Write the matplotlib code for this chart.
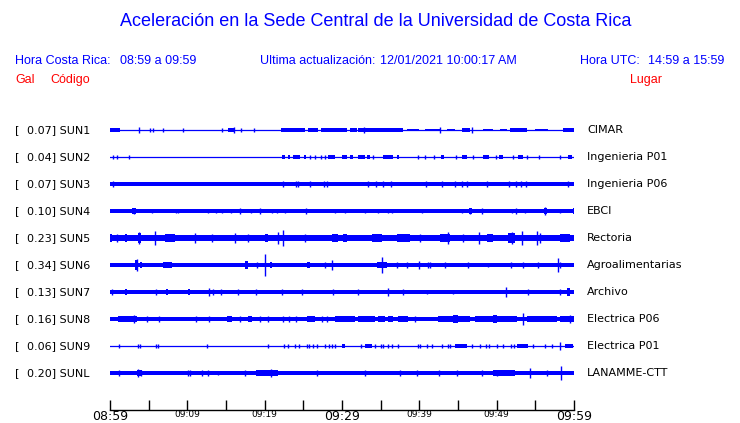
import matplotlib.pyplot as plt
from matplotlib.transforms import blended_transform_factory

# stations, top to bottom
codes = ['SUN1', 'SUN2', 'SUN3', 'SUN4', 'SUN5', 'SUN6', 'SUN7', 'SUN8', 'SUN9', 'SUNL']
places = ['CIMAR', 'Ingenieria P01', 'Ingenieria P06', 'EBCI', 'Rectoria',
          'Agroalimentarias', 'Archivo', 'Electrica P06', 'Electrica P01', 'LANAMME-CTT']
peaks = [0.07, 0.04, 0.07, 0.10, 0.23, 0.34, 0.13, 0.16, 0.06, 0.20]

# background noise half amplitude (Gal), 0 = quiet trace
noise = [0.0, 0.0, 0.055, 0.05, 0.09, 0.055, 0.05, 0.065, 0.0, 0.055]

# bursts: (start min, end min, half amplitude Gal), minutes after 08:59
sun1_bursts = [(0, 1.3, .045), (15.3, 16.2, .045), (22.1, 25.2, .045), (25.6, 26.9, .045),
               (27.3, 30.6, .045), (31.0, 31.9, .045), (32.1, 37.9, .045), (38.4, 40.0, .04),
               (40.7, 42.7, .04), (43.6, 44.6, .04), (45.5, 46.6, .045), (48.2, 49.5, .04),
               (50.4, 51.3, .04), (51.7, 53.9, .045), (55.0, 56.6, .04), (58.6, 60, .045)]
sun2_bursts = [(22.2, 22.6, .05), (23.0, 23.3, .05), (23.7, 24.6, .05), (25.1, 25.3, .05),
               (28.2, 29.1, .05), (30.0, 30.6, .05), (31.0, 31.4, .05), (32.1, 33.0, .05),
               (33.2, 33.6, .05), (35.3, 36.6, .05), (37.1, 37.4, .05), (42.8, 43.2, .05),
               (45.5, 46.2, .05), (48.2, 49.0, .05), (50.3, 50.8, .05), (52.8, 53.4, .05),
               (59.2, 59.7, .05)]
sun3_bursts = []
sun4_bursts = [(0, 0.3, .07), (2.8, 3.4, .08), (38.4, 38.7, .07), (46.4, 46.8, .08),
               (56.1, 56.5, .09), (59.9, 60, .08)]
sun5_bursts = [(0, 0.3, .12), (1.9, 2.2, .12), (3.6, 4.0, .14), (7.1, 8.4, .11), (20.0, 20.4, .12),
               (28.7, 29.5, .12), (30.1, 30.6, .12), (33.9, 35.2, .13), (37.1, 38.8, .13),
               (42.7, 44.0, .13), (48.7, 49.5, .13), (51.5, 52.4, .14), (58.2, 59.5, .12)]
sun6_bursts = [(3.2, 3.6, .14), (3.9, 4.1, .09), (6.9, 8.0, .085), (17.5, 17.8, .11),
               (20.7, 20.9, .09), (25.5, 25.9, .1), (34.5, 35.8, .1)]
sun7_bursts = [(1.9, 2.2, .08), (7.2, 7.5, .08), (10.1, 10.3, .1), (59.1, 59.5, .12)]
sun8_bursts = [(1.0, 3.5, .1), (15.1, 15.8, .09), (17.8, 18.3, .09), (25.5, 26.5, .1),
               (29.1, 31.7, .085), (32.1, 34.3, .08), (34.7, 35.6, .08), (35.9, 36.6, .08),
               (37.3, 38.5, .1), (42.4, 46.6, .1), (44.4, 45.0, .13), (47.2, 49.5, .09),
               (49.5, 50.0, .11), (50.0, 52.6, .09), (53.9, 57.8, .09), (58.2, 60, .09)]
sun9_bursts = [(30.0, 30.4, .06), (33.0, 33.9, .05), (44.6, 46.2, .045), (52.6, 54.1, .06),
               (58.8, 59.9, .05)]
sunl_bursts = [(3.5, 4.1, .1), (18.9, 21.7, .1), (49.5, 52.4, .09)]

# single spikes: (minute, half amplitude Gal)
sun1_spikes = [(3.8, .09), (5.2, .045), (5.6, .045), (6.8, .045), (9.4, .045), (14.5, .045),
               (16.0, .075), (17.0, .045), (18.6, .045), (32.8, .09), (42.7, .075), (46.8, .075)]
sun2_spikes = [(0.4, .045), (0.9, .045), (2.5, .06), (25.9, .05), (26.5, .05), (27.3, .05),
               (27.8, .05), (34.0, .05), (39.8, .05), (40.7, .05), (41.9, .05), (44.7, .05),
               (46.9, .05), (49.9, .05), (52.1, .05), (53.9, .05), (55.5, .05), (58.2, .05)]
sun3_spikes = [(0.4, .09), (22.4, .09), (24.0, .09), (24.3, .09), (25.9, .08), (27.7, .09),
               (28.0, .08), (33.4, .09), (34.4, .09), (35.3, .09), (36.3, .09), (40.9, .09),
               (42.9, .09), (44.6, .09), (45.5, .09), (46.2, .1), (48.7, .09), (51.6, .09),
               (52.5, .09), (53.1, .09), (53.8, .09), (59.2, .09)]
sun4_spikes = [(3.1, .09), (5.4, .07), (8.5, .07), (8.8, .07), (12.7, .07), (13.7, .07),
               (14.5, .07), (15.6, .07), (16.8, .09), (18.2, .07), (19.4, .09), (20.9, .07),
               (21.6, .07), (22.6, .07), (25.3, .08), (29.1, .07), (30.4, .07), (33.0, .07),
               (34.7, .07), (35.9, .07), (36.5, .07), (40.3, .07), (45.5, .07), (46.6, .09),
               (48.1, .09), (52.0, .07), (52.5, .08), (53.7, .07), (56.3, .105), (58.2, .07)]
sun5_spikes = [(0.9, .11), (3.8, .17), (5.8, .21), (11.0, .15), (13.2, .11), (16.2, .15),
               (17.8, .12), (21.7, .18), (22.4, .24), (25.2, .12), (40.1, .12), (43.7, .18),
               (45.6, .12), (47.7, .19), (52.0, .17), (53.3, .21), (55.2, .22), (55.6, .15)]
sun6_spikes = [(3.5, .18), (19.0, .09), (20.0, .33), (27.8, .09), (28.7, .15), (35.2, .24),
               (37.1, .075), (38.4, .09), (40.0, .12), (41.1, .075), (41.4, .075), (43.3, .09),
               (46.3, .075), (48.9, .07), (51.8, .09), (53.4, .075), (55.3, .075), (57.9, .21),
               (58.2, .09)]
sun7_spikes = [(0.2, .1), (6.0, .075), (12.8, .13), (13.3, .075), (14.4, .075), (16.6, .075),
               (18.9, .075), (22.3, .075), (24.8, .075), (28.8, .09), (32.1, .075), (36.0, .12),
               (37.9, .075), (41.0, .07), (44.4, .07), (51.2, .15), (54.1, .075), (58.2, .075)]
sun8_spikes = [(3.1, .13), (4.8, .085), (6.3, .085), (11.1, .09), (12.8, .085), (16.8, .085),
               (19.4, .085), (20.4, .085), (22.4, .09), (23.1, .085), (24.0, .09), (27.4, .1),
               (28.0, .09), (39.4, .09), (53.4, .18), (59.5, .12)]
sun9_spikes = [(1.2, .045), (3.6, .045), (3.9, .05), (5.9, .05), (6.2, .05), (12.5, .05),
               (20.4, .05), (22.5, .05), (23.0, .045), (23.9, .05), (24.4, .05), (25.5, .06),
               (25.7, .06), (26.2, .05), (26.8, .05), (27.8, .05), (28.3, .05), (28.7, .05),
               (29.1, .05), (32.4, .05), (34.3, .045), (35.0, .05), (35.3, .045), (36.0, .05),
               (36.5, .045), (37.2, .045), (39.8, .045), (40.1, .045), (41.0, .045), (41.6, .045),
               (42.9, .05), (43.7, .045), (44.0, .045), (46.8, .045), (47.9, .05), (48.6, .045),
               (49.0, .045), (50.0, .045), (50.8, .045), (51.8, .045), (52.3, .045), (54.7, .045),
               (56.2, .045), (57.2, .045), (58.2, .12)]
sunl_spikes = [(1.2, .08), (3.6, .12), (4.0, .1), (10.1, .1), (10.3, .1), (11.9, .09),
               (12.7, .09), (14.0, .07), (17.5, .09), (20.8, .12), (26.8, .1), (33.0, .08),
               (37.5, .08), (39.7, .08), (42.6, .09), (44.9, .08), (48.1, .08), (50.0, .1),
               (54.3, .16), (56.5, .09), (58.3, .22)]

bursts = [sun1_bursts, sun2_bursts, sun3_bursts, sun4_bursts, sun5_bursts,
          sun6_bursts, sun7_bursts, sun8_bursts, sun9_bursts, sunl_bursts]
spikes = [sun1_spikes, sun2_spikes, sun3_spikes, sun4_spikes, sun5_spikes,
          sun6_spikes, sun7_spikes, sun8_spikes, sun9_spikes, sunl_spikes]

tick_min = list(range(0, 61, 5))
tick_txt = ['08:59', '', '09:09', '', '09:19', '', '09:29', '', '09:39', '', '09:49', '', '09:59']

BLUE = '#0000ff'
RED = '#ff0000'
W, H = 740, 423
ROW = 27 / 34  # vertical gap between traces, in Gal

fig = plt.figure(figsize=(W / 100, H / 100), dpi=100)
ax = fig.add_axes([110 / W, 13 / H, 464 / W, 295 / H])
ax.set_xlim(0, 60)
ax.set_ylim(-280 / 34, 15 / 34)

for i in range(len(codes)):
    y0 = -i * ROW
    if noise[i] > 0:
        ax.fill_between([0, 60], y0 - noise[i], y0 + noise[i], color=BLUE, lw=0)
    else:
        ax.plot([0, 60], [y0, y0], color=BLUE, lw=0.9)
    for t0, t1, a in bursts[i]:
        ax.fill_between([t0, t1], y0 - a, y0 + a, color=BLUE, lw=0)
    for t, a in spikes[i]:
        ax.vlines(t, y0 - a, y0 + a, color=BLUE, lw=1.0)

# station labels
tr = blended_transform_factory(fig.transFigure, ax.transData)
for i in range(len(codes)):
    y0 = -i * ROW
    ax.text(15 / W, y0, '[', transform=tr, fontsize=8, va='center', family='DejaVu Sans')
    ax.text(27 / W, y0, f'{peaks[i]:.2f}] {codes[i]}', transform=tr, fontsize=8,
            va='center', family='DejaVu Sans')
    ax.text(587 / W, y0, places[i], transform=tr, fontsize=8, va='center',
            family='DejaVu Sans')

# time axis
for s in ['left', 'right', 'top']:
    ax.spines[s].set_visible(False)
ax.spines['bottom'].set_linewidth(1.0)
ax.set_yticks([])
ax.set_xticks(tick_min)
ax.set_xticklabels(tick_txt)
ax.tick_params(axis='x', direction='in', length=7, width=1.0, pad=0)
for lab, t in zip(ax.get_xticklabels(), tick_min):
    lab.set_fontsize(9 if t % 30 == 0 else 6.5)

# header
hdr = dict(family='Liberation Sans', va='center')
fig.text(376 / W, 1 - 22 / H, 'Aceleración en la Sede Central de la Universidad de Costa Rica',
         ha='center', color=BLUE, fontsize=13, **hdr)
fig.text(15 / W, 1 - 61 / H, 'Hora Costa Rica:', color=BLUE, fontsize=9, **hdr)
fig.text(120 / W, 1 - 61 / H, '08:59 a 09:59', color=BLUE, fontsize=9, **hdr)
fig.text(260 / W, 1 - 61 / H, 'Ultima actualización:', color=BLUE, fontsize=9, **hdr)
fig.text(380 / W, 1 - 61 / H, '12/01/2021 10:00:17 AM', color=BLUE, fontsize=9, **hdr)
fig.text(580 / W, 1 - 61 / H, 'Hora UTC:', color=BLUE, fontsize=9, **hdr)
fig.text(724 / W, 1 - 61 / H, '14:59 a 15:59', color=BLUE, fontsize=9, ha='right', **hdr)
fig.text(15 / W, 1 - 80 / H, 'Gal', color=RED, fontsize=9, **hdr)
fig.text(50 / W, 1 - 80 / H, 'Código', color=RED, fontsize=9, **hdr)
fig.text(662 / W, 1 - 80 / H, 'Lugar', color=RED, fontsize=9, ha='right', **hdr)

fig.savefig('out.png', dpi=100)
